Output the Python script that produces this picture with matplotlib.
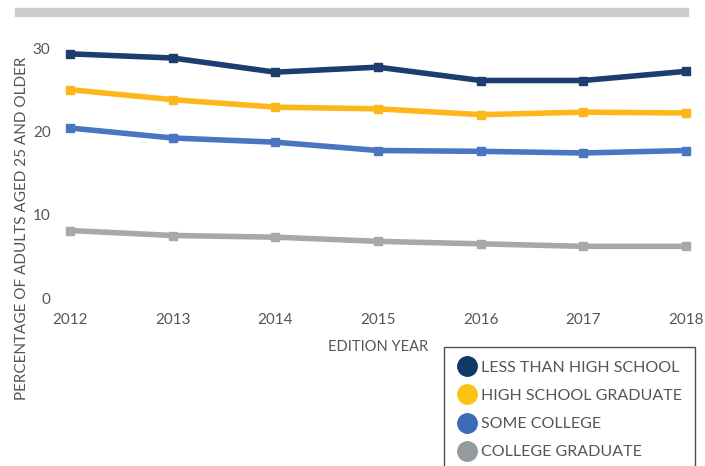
import matplotlib
matplotlib.use("Agg")
import matplotlib.pyplot as plt
from matplotlib.lines import Line2D
from matplotlib.patches import Rectangle

# editions and share of adults (%) by education level
years = [2012, 2013, 2014, 2015, 2016, 2017, 2018]
less_hs = [29.3, 28.8, 27.1, 27.7, 26.1, 26.1, 27.2]
hs_grad = [25.0, 23.8, 22.9, 22.7, 22.0, 22.3, 22.2]
some_col = [20.4, 19.2, 18.7, 17.7, 17.6, 17.4, 17.7]
col_grad = [8.1, 7.5, 7.3, 6.8, 6.5, 6.2, 6.2]

series = ["LESS THAN HIGH SCHOOL", "HIGH SCHOOL GRADUATE", "SOME COLLEGE", "COLLEGE GRADUATE"]
line_colors = ["#1d3d6f", "#fdb71a", "#4a75c1", "#aaa7a7"]
dot_colors = ["#0f3a66", "#fcc214", "#3d6bb8", "#959a9d"]

plt.rcParams["font.family"] = ["Lato", "DejaVu Sans"]
txt = "#555555"

W, H = 705, 466
fig = plt.figure(figsize=(W / 100, H / 100), dpi=100)

# grey bar across the top
fig.patches.append(Rectangle((15 / W, 1 - 16 / H), 673 / W, 8 / H,
                             transform=fig.transFigure, color="#cdcdcd", zorder=0))

ax = fig.add_axes([70 / W, 1 - 298 / H, (686 - 70) / W, (298 - 48) / H])

for vals, c in zip([less_hs, hs_grad, some_col, col_grad], line_colors):
    ax.plot(years, vals, color=c, linewidth=4, marker="s", markersize=6,
            clip_on=False, solid_joinstyle="round")

ax.set_xlim(2012, 2018)
ax.set_ylim(0, 30)
ax.set_yticks([0, 10, 20, 30])
ax.set_xticks(years)
for s in ax.spines.values():
    s.set_visible(False)
ax.tick_params(length=0, labelsize=11, colors=txt)
ax.tick_params(axis="y", pad=14)
ax.tick_params(axis="x", pad=11)

ax.set_xlabel("EDITION YEAR", fontsize=10.5, color=txt, labelpad=9)
fig.text(22 / W, 1 - 228 / H, "PERCENTAGE OF ADULTS AGED 25 AND OLDER",
         rotation=90, ha="center", va="center", fontsize=11, color=txt)

handles = [Line2D([], [], linestyle="none", marker="o", markersize=14,
                  markerfacecolor=c, markeredgecolor=c) for c in dot_colors]
leg = fig.legend(handles, series, loc="upper left",
                 bbox_to_anchor=(444 / W, 1 - 347 / H), borderaxespad=0,
                 fontsize=11.5, frameon=True, fancybox=False,
                 handletextpad=0.25, labelspacing=0.88, borderpad=0.85,
                 handlelength=1.2)
leg.get_frame().set_edgecolor("#222222")
leg.get_frame().set_linewidth(1.0)
for t in leg.get_texts():
    t.set_color(txt)

fig.savefig("out.png", dpi=100)
